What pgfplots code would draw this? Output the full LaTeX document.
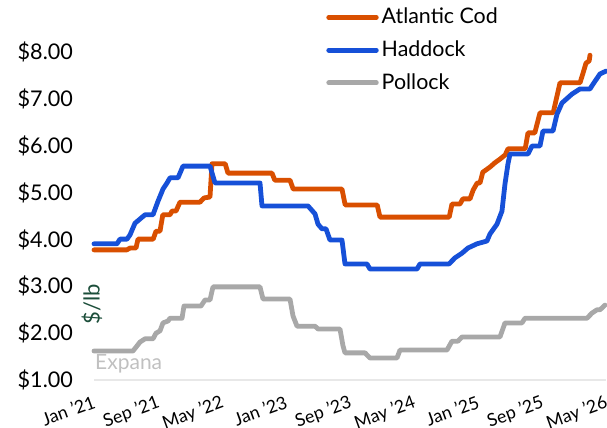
\documentclass[border=0pt]{standalone}
\usepackage{pgfplots}
\usepackage{pgfplotstable}
\pgfplotsset{compat=1.18}
\usepackage{fontspec}
\setmainfont{Lato}
\definecolor{cod}{RGB}{217,79,0}
\definecolor{haddock}{RGB}{22,80,216}
\definecolor{pollock}{RGB}{168,168,168}
\definecolor{unitgreen}{RGB}{28,78,58}
\definecolor{srcgray}{RGB}{192,192,192}
\definecolor{basegray}{RGB}{232,232,232}

\pgfplotstableread{
m v
0 3.78
4.1 3.78
4.5 3.82
5.25 3.82
5.5 4.01
7.4 4.01
7.75 4.18
8.25 4.18
8.6 4.53
9.5 4.53
9.75 4.61
10.25 4.61
10.75 4.80
13.25 4.80
13.75 4.89
14.5 4.91
14.75 5.62
16.4 5.62
16.75 5.42
22.25 5.42
22.6 5.27
24.5 5.27
24.9 5.08
31 5.08
31.4 4.74
35.4 4.74
35.75 4.48
44.4 4.48
44.75 4.76
45.75 4.76
46.1 4.87
47 4.87
47.4 5.06
47.9 5.21
48.25 5.21
48.6 5.44
49.5 5.55
50.1 5.64
50.75 5.72
51.4 5.81
51.75 5.94
53.9 5.94
54.25 6.28
55.1 6.28
55.75 6.71
57.4 6.71
58.25 7.35
60.75 7.35
61.1 7.54
61.5 7.77
61.9 7.82
62 7.94
}\codtable

\pgfplotstableread{
m v
0 3.91
2.875 3.91
3.25 4.01
4.125 4.01
4.5 4.10
5.125 4.35
5.75 4.44
6.375 4.53
7.375 4.53
8.0 4.82
8.625 5.08
9.125 5.21
9.5 5.32
10.5 5.32
11.125 5.57
14.5 5.57
15.125 5.21
20.75 5.21
21 4.72
26.75 4.72
27.625 4.55
28 4.33
28.5 4.23
29 4.23
29.5 3.99
31 3.99
31.375 3.48
34.125 3.48
34.5 3.37
40.375 3.37
40.75 3.48
44.375 3.48
45.125 3.61
46 3.71
46.75 3.82
47.875 3.91
49.125 3.97
49.5 4.12
50.375 4.33
51 4.61
51.375 5.19
51.75 5.62
52 5.83
54.25 5.83
54.75 6.00
55.75 6.00
56.125 6.32
57.375 6.32
57.875 6.68
58.5 6.92
59.75 7.11
60.75 7.22
62 7.22
62.375 7.32
63.25 7.54
64 7.60
}\haddocktable

\pgfplotstableread{
m v
0 1.62
4.875 1.62
5.75 1.81
6.375 1.88
7.375 1.88
7.75 2.00
8.25 2.05
8.625 2.22
9.25 2.26
9.5 2.32
11 2.32
11.25 2.58
13.375 2.58
13.875 2.71
14.5 2.71
14.875 2.99
20.75 2.99
21.125 2.73
24.5 2.73
24.875 2.37
25.375 2.15
27.625 2.15
28 2.09
30.75 2.09
31.125 1.73
31.375 1.58
33.875 1.58
34.5 1.47
37.875 1.47
38.25 1.64
44.125 1.64
44.75 1.83
45.5 1.83
46 1.92
50.75 1.92
51.375 2.22
53.5 2.22
53.875 2.32
61.625 2.32
62.25 2.43
62.875 2.50
63.25 2.50
63.875 2.60
}\pollocktable

\begin{document}
\begin{tikzpicture}
\path[use as bounding box] (-47pt,-24pt) rectangle (256.5pt,190pt);
\begin{axis}[
  at={(0pt,0pt)}, anchor=south west,
  scale only axis,
  width=256pt, height=163.8pt,
  xmin=0, xmax=64, ymin=1, ymax=8,
  clip=false,
  axis x line*=bottom,
  axis y line*=left,
  x axis line style={draw=basegray, line width=0.6pt, -},
  y axis line style={draw=none},
  major tick length=0pt,
  xtick={0,8,16,24,32,40,48,56,64},
  xticklabels={Jan '21,Sep '21,May '22,Jan '23,Sep '23,May '24,Jan '25,Sep '25,May '26},
  xticklabel style={rotate=20, anchor=north east, font=\fontsize{8.9}{10}\selectfont, yshift=-3pt},
  ytick={1,2,3,4,5,6,7,8},
  yticklabel={\$\pgfmathprintnumber[fixed,fixed zerofill,precision=2]{\tick}},
  yticklabel style={anchor=east, font=\fontsize{10.8}{12}\selectfont, xshift=-7pt},
  /pgf/number format/assume math mode=true,
  every axis plot/.append style={line width=2.4pt, line join=round, line cap=round},
  legend image code/.code={\draw[#1, line cap=round] (1.2pt,0pt) -- (25pt,0pt);},
  legend style={at={(rel axis cs:0.453,1.146)}, anchor=north west, draw=none, fill=none,
    font=\fontsize{10.7}{13}\selectfont, row sep=4pt, inner sep=0pt,
    nodes={inner sep=1.5pt}},
  legend cell align=left,
]
\addplot[color=cod, no markers] table[x=m,y=v] {\codtable};
\addlegendentry{Atlantic Cod}
\addplot[color=haddock, no markers] table[x=m,y=v] {\haddocktable};
\addlegendentry{Haddock}
\addplot[color=pollock, no markers] table[x=m,y=v] {\pollocktable};
\addlegendentry{Pollock}
\node[rotate=90, text=unitgreen, font=\fontsize{11}{13}\selectfont] at (axis cs:-0.25,2.62) {\$/lb};
\node[anchor=west, text=srcgray, font=\fontsize{10.5}{12}\selectfont, inner sep=0pt] at (axis cs:0.1,1.34) {Expana};
\end{axis}
\end{tikzpicture}
\end{document}
